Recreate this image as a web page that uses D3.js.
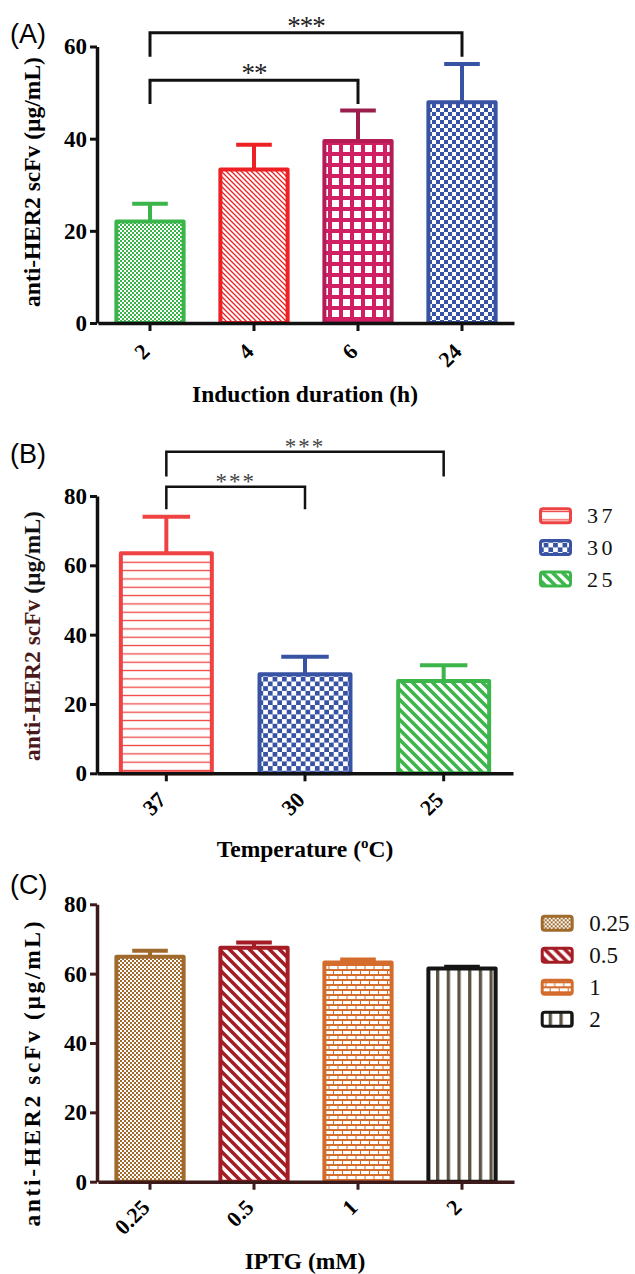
<!DOCTYPE html>
<html><head><meta charset="utf-8">
<script src="https://cdn.jsdelivr.net/npm/d3@7"></script>
<style>body{margin:0;background:#fff}svg{display:block}</style>
</head><body>
<svg id="c" width="635" height="1274"></svg>
<script>
// ---------- DATA ----------
const aCats = ["2","4","6","24"];
const aMeans = [22.0, 33.3, 39.5, 47.9];
const aSD = [3.9, 5.4, 6.6, 8.3];
const aTicks = [0,20,40,60];
const aSig = [{from:0,to:3,level:63.0,leg:57.8,label:"***"},{from:0,to:2,level:52.7,leg:47.5,label:"**"}];

const bCats = ["37","30","25"];
const bMeans = [63.5, 28.6, 26.6];
const bSD = [10.5, 5.0, 4.6];
const bTicks = [0,20,40,60,80];
const bSig = [{from:0,to:2,level:92.8,leg:85.6,label:"***"},{from:0,to:1,level:82.7,leg:76.2,label:"***"}];

const cCats = ["0.25","0.5","1","2"];
const cMeans = [64.9, 67.5, 63.2, 61.5];
const cSD = [1.7, 1.5, 0.9, 0.5];
const cTicks = [0,20,40,60,80];

// ---------- SETUP ----------
const svg = d3.select("#c");
const defs = svg.append("defs");
const SERIF = "'Liberation Serif','Times New Roman',serif";
const SANS = "'Liberation Sans',Arial,sans-serif";

function pat(id,w,h,x=0){return defs.append("pattern").attr("id",id).attr("patternUnits","userSpaceOnUse").attr("x",x).attr("width",w).attr("height",h);}
function checker(id,cell,color){const p=pat(id,cell*2,cell*2);
  p.append("rect").attr("width",cell*2).attr("height",cell*2).attr("fill","#fff");
  p.append("rect").attr("width",cell).attr("height",cell).attr("fill",color);
  p.append("rect").attr("x",cell).attr("y",cell).attr("width",cell).attr("height",cell).attr("fill",color);}
function diag(id,s,color,w){const p=pat(id,s,s);
  p.append("rect").attr("width",s).attr("height",s).attr("fill","#fff");
  p.append("path").attr("d",`M${-s*0.2},${-s*0.2}L${s*1.2},${s*1.2}M${-s*0.2},${s*0.8}L${s*0.2},${s*1.2}M${s*0.8},${-s*0.2}L${s*1.2},${s*0.2}`)
   .attr("stroke",color).attr("stroke-width",w).attr("fill","none");}
function hlines(id,h,color,w){const p=pat(id,10,h);
  p.append("rect").attr("width",10).attr("height",h).attr("fill","#fff");
  p.append("rect").attr("y",h/2-w/2).attr("width",10).attr("height",w).attr("fill",color);}
function grid(id,s,color,sq){const p=pat(id,s,s);
  p.append("rect").attr("width",s).attr("height",s).attr("fill",color);
  p.append("rect").attr("x",(s-sq)/2).attr("y",(s-sq)/2).attr("width",sq).attr("height",sq).attr("fill","#fff");}
function brick(id,color){const p=pat(id,18,10);
  p.append("rect").attr("width",18).attr("height",10).attr("fill",color);
  [[1,1],[10,1],[-3.5,6],[5.5,6],[14.5,6]].forEach(([x,y])=>p.append("rect").attr("x",x).attr("y",y).attr("width",8).attr("height",3).attr("fill","#fff"));}
function vstripes(id,s,color,w,x0){const p=pat(id,s,10,x0);
  p.append("rect").attr("width",s).attr("height",10).attr("fill","#fff");
  p.append("rect").attr("width",w).attr("height",10).attr("fill",color);}

checker("pA1",2,"#39b54a");
diag("pA2",5,"#ed2024",1.3);
grid("pA3",11,"#d01f62",7);
checker("pA4",4,"#3853a4");
hlines("pB1",8.33,"#ef4646",1.3);
checker("pB2",4.7,"#3953a4");
diag("pB3",10,"#3cb54a",3.6);
checker("pC1",2,"#9f6a2b");
diag("pC2",10,"#a51d24",3.6);
brick("pC3","#d46c2c");
vstripes("pC4",10.7,"#5b5444",3.3,436);

function panel(cfg){
  const g = svg.append("g");
  const x = d3.scaleBand().domain(cfg.cats).range(cfg.xr).paddingInner(0.315).paddingOuter(0.1575);
  const y = d3.scaleLinear().domain([0,cfg.ymax]).range(cfg.yr);
  const bw = x.bandwidth();
  const data = cfg.cats.map((c,i)=>({c,m:cfg.means[i],s:cfg.sd[i],i}));
  g.selectAll("line.err").data(data).join("line")
    .attr("x1",d=>x(d.c)+bw/2).attr("x2",d=>x(d.c)+bw/2)
    .attr("y1",d=>y(d.m)).attr("y2",d=>y(d.m+d.s))
    .attr("stroke",d=>cfg.err[d.i]).attr("stroke-width",4);
  g.selectAll("line.cap").data(data).join("line")
    .attr("x1",d=>x(d.c)+bw/4).attr("x2",d=>x(d.c)+bw*3/4)
    .attr("y1",d=>y(d.m+d.s)).attr("y2",d=>y(d.m+d.s))
    .attr("stroke",d=>cfg.err[d.i]).attr("stroke-width",4);
  g.selectAll("rect.bar").data(data).join("rect")
    .attr("x",d=>x(d.c)+2).attr("width",bw-4)
    .attr("y",d=>y(d.m)).attr("height",d=>y(0)-y(d.m))
    .attr("fill",d=>`url(#${cfg.fills[d.i]})`)
    .attr("stroke",d=>cfg.strokes[d.i]).attr("stroke-width",4).attr("stroke-linejoin","round");
  const ya = g.append("g").attr("transform",`translate(${cfg.axisX},0)`)
    .call(d3.axisLeft(y).tickValues(cfg.ticks).tickSize(7).tickPadding(3).tickSizeOuter(0));
  ya.select(".domain").attr("stroke",cfg.axisColor).attr("stroke-width",3.5);
  ya.selectAll(".tick line").attr("stroke",cfg.axisColor).attr("stroke-width",3);
  ya.selectAll(".tick text").attr("font-family",SERIF).attr("font-weight","bold").attr("font-size",23).attr("fill","#000");
  const xa = g.append("g").attr("transform",`translate(0,${y(0)})`)
    .call(d3.axisBottom(x).tickSize(8).tickSizeOuter(0));
  xa.select(".domain").attr("stroke",cfg.axisColor).attr("stroke-width",3.5);
  xa.selectAll(".tick line").attr("stroke",cfg.axisColor).attr("stroke-width",3);
  xa.selectAll(".tick text").remove();
  g.selectAll("text.xl").data(data).join("text")
    .attr("transform",d=>`translate(${x(d.c)+bw/2+1},${y(0)+cfg.xlOff}) rotate(-45)`)
    .attr("text-anchor","end").attr("font-family",SERIF).attr("font-weight","bold").attr("font-size",22)
    .text(d=>d.c);
  if(cfg.sig){
    cfg.sig.forEach(s=>{
      const x1=x(cfg.cats[s.from])+bw/2, x2=x(cfg.cats[s.to])+bw/2;
      g.append("path").attr("d",`M${x1},${y(s.leg)}V${y(s.level)}H${x2}V${y(s.leg)}`)
        .attr("fill","none").attr("stroke","#111").attr("stroke-width",cfg.sigW);
      g.append("text").attr("x",(x1+x2)/2).attr("y",y(s.level)+cfg.sigGap).attr("text-anchor","middle")
        .attr("font-family",SERIF).attr("font-size",cfg.sigSize).attr("letter-spacing",cfg.sigLS)
        .attr("fill",cfg.sigColor).text(s.label);
    });
  }
  g.append("text").attr("x",10).attr("y",cfg.letterY).attr("font-family",SANS).attr("font-size",27).text(cfg.letter);
  const xt = g.append("text").attr("x",305).attr("y",cfg.xTitleY).attr("text-anchor","middle")
    .attr("font-family",SERIF).attr("font-weight","bold").attr("font-size",23.5);
  cfg.xTitle(xt);
  const yt = g.append("text").attr("transform",`translate(40,${cfg.yTitleY}) rotate(-90)`).attr("text-anchor","middle")
    .attr("font-family",SERIF).attr("font-weight","bold").attr("font-size",23.5);
  if(cfg.yLen) yt.attr("textLength",cfg.yLen).attr("lengthAdjust","spacing");
  cfg.yTitle(yt);
  if(cfg.legend){
    const lg = g.append("g");
    const items = lg.selectAll("g").data(data).join("g")
      .attr("transform",d=>`translate(${cfg.legend.x},${cfg.legend.y+d.i*cfg.legend.dy})`);
    items.append("rect").attr("x",1.5).attr("y",-7).attr("width",30).attr("height",14).attr("rx",2.5)
      .attr("fill",d=>`url(#${cfg.fills[d.i]})`).attr("stroke",d=>cfg.strokes[d.i]).attr("stroke-width",3);
    items.append("text").attr("x",cfg.legend.tx).attr("y",cfg.legend.fs*0.34)
      .attr("font-family",SERIF).attr("font-size",cfg.legend.fs).attr("letter-spacing",cfg.legend.ls)
      .attr("fill","#111").text(d=>d.c);
  }
}

panel({cats:aCats,means:aMeans,sd:aSD,ticks:aTicks,ymax:60,xr:[98,514],yr:[323,46.5],axisX:97,
  fills:["pA1","pA2","pA3","pA4"],strokes:["#39b54a","#ed2024","#b51c56","#3853a4"],
  err:["#39b54a","#ed2024","#9b1d4c","#3853a4"],axisColor:"#111",xlOff:30,
  sig:aSig,sigW:3,sigGap:2,sigSize:27,sigLS:-1,sigColor:"#222",
  letter:"(A)",letterY:43,xTitleY:402,yTitleY:182,
  xTitle:t=>t.text("Induction duration (h)"),
  yTitle:t=>t.text("anti-HER2 scFv (µg/mL)")});

panel({cats:bCats,means:bMeans,sd:bSD,ticks:bTicks,ymax:80,xr:[97,513],yr:[773.3,496],axisX:97,
  fills:["pB1","pB2","pB3"],strokes:["#ef4343","#3953a4","#3cb54a"],
  err:["#ef4343","#3953a4","#3cb54a"],axisColor:"#111",xlOff:28,
  sig:bSig,sigW:2.5,sigGap:2,sigSize:23,sigLS:2,sigColor:"#444",
  letter:"(B)",letterY:463,xTitleY:857,yTitleY:636,
  xTitle:t=>{t.append("tspan").text("Temperature (");t.append("tspan").attr("font-size",15).attr("dy",-9).text("o");t.append("tspan").attr("dy",9).text("C)");},
  yTitle:t=>{t.append("tspan").attr("fill","#4a1a1a").text("anti-HER2 scFv ");t.append("tspan").attr("fill","#111").text("(µg/mL)");},
  legend:{x:539,y:515.7,dy:31.7,tx:48,fs:22,ls:3.5}});

panel({cats:cCats,means:cMeans,sd:cSD,ticks:cTicks,ymax:80,xr:[98,514],yr:[1181.7,904.3],axisX:97,
  fills:["pC1","pC2","pC3","pC4"],strokes:["#9f6a2b","#a51d24","#d46c2c","#151515"],
  err:["#9f6a2b","#a51d24","#d46c2c","#151515"],axisColor:"#3d1b1b",xlOff:27,
  letter:"(C)",letterY:894,xTitleY:1269,yTitleY:1074,yLen:305,
  xTitle:t=>t.text("IPTG (mM)"),
  yTitle:t=>t.text("anti-HER2 scFv (µg/mL)"),
  legend:{x:540.7,y:923.3,dy:32,tx:48.5,fs:23,ls:0}});
</script>
</body></html>
